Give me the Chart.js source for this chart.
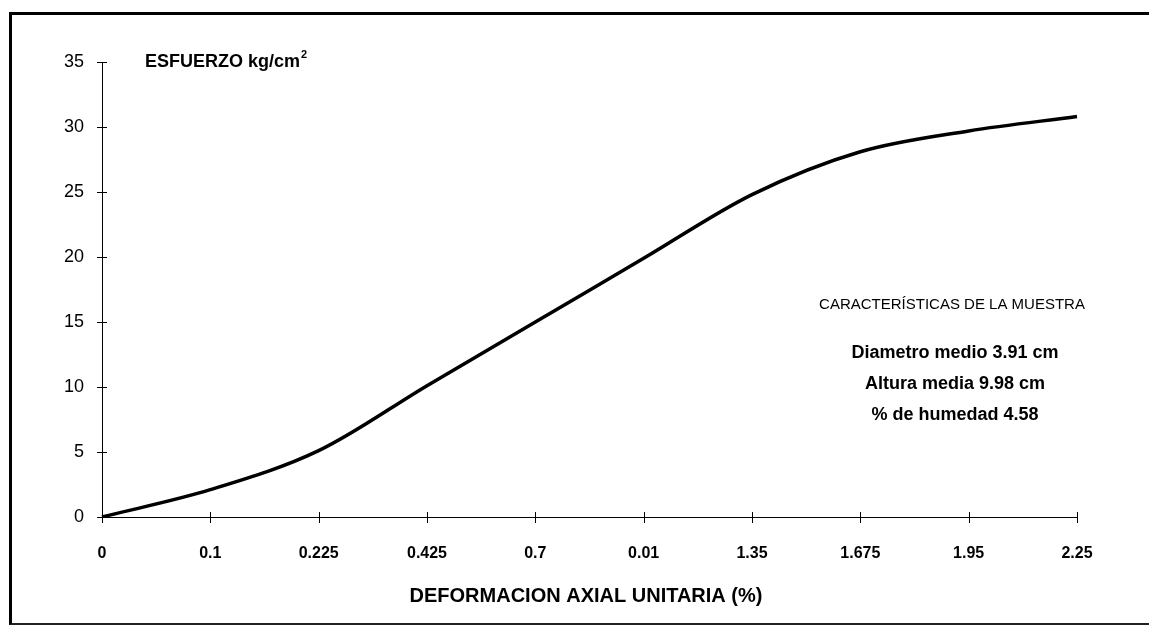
<!DOCTYPE html>
<html>
<head>
<meta charset="utf-8">
<script src="https://cdn.jsdelivr.net/npm/chart.js@4.4.1/dist/chart.umd.min.js"></script>
<style>
  html, body { margin: 0; padding: 0; background: #fff; }
  #wrap { position: relative; width: 1149px; height: 625px; overflow: hidden; }
  #frame {
    position: absolute; left: 9px; top: 12px; width: 1160px; height: 608px;
    border-left: 3px solid #000; border-top: 3px solid #000; border-bottom: 2px solid #222;
    pointer-events: none;
  }
</style>
</head>
<body>
<div id="wrap">
  <canvas id="chart-curva"></canvas>
  <div id="frame"></div>
</div>
<script>
/*===============
datos
====================*/
const deformacion = ['0', '0.1', '0.225', '0.425', '0.7', '0.01', '1.35', '1.675', '1.95', '2.25'];
const esfuerzo = [0, 2.1, 5.1, 10.1, 15, 19.9, 24.8, 28.1, 29.7, 30.8];
const yMin = 0;
const yMax = 35;
const yStep = 5;

const tituloY = 'ESFUERZO kg/cm';
const tituloX = 'DEFORMACION AXIAL UNITARIA (%)';
const caracteristicas = 'CARACTERÍSTICAS DE LA MUESTRA';
const datosMuestra = ['Diametro medio 3.91 cm', 'Altura media 9.98 cm', '% de humedad 4.58'];

const FONT = '"Liberation Sans", Arial, sans-serif';

/*===============
ticks cruzados + textos
====================*/
const extras = {
    id: 'extras',
    afterDraw(chart) {
        const ctx = chart.ctx;
        const x = chart.scales.x;
        const y = chart.scales.y;
        const area = chart.chartArea;
        ctx.save();
        ctx.strokeStyle = '#000';
        ctx.lineWidth = 1;
        y.ticks.forEach((t, i) => {
            const py = Math.round(y.getPixelForTick(i)) + 0.5;
            ctx.beginPath();
            ctx.moveTo(area.left - 5, py);
            ctx.lineTo(area.left + 5, py);
            ctx.stroke();
        });
        x.ticks.forEach((t, i) => {
            const px = Math.round(x.getPixelForTick(i)) + 0.5;
            ctx.beginPath();
            ctx.moveTo(px, area.bottom - 5);
            ctx.lineTo(px, area.bottom + 6);
            ctx.stroke();
        });

        ctx.fillStyle = '#000';
        ctx.textBaseline = 'middle';
        // titulo eje y
        ctx.textAlign = 'left';
        ctx.font = 'bold 18px ' + FONT;
        ctx.fillText(tituloY, 145, 62);
        const w = ctx.measureText(tituloY).width;
        ctx.font = 'bold 11px ' + FONT;
        ctx.fillText('2', 145 + w + 1, 55);

        // titulo eje x
        ctx.textAlign = 'center';
        ctx.font = 'bold 20px ' + FONT;
        ctx.fillText(tituloX, 586, 596);

        // caracteristicas
        ctx.font = '15px ' + FONT;
        ctx.fillText(caracteristicas, 952, 305);
        ctx.font = 'bold 18px ' + FONT;
        datosMuestra.forEach((s, i) => ctx.fillText(s, 955, 353 + i * 31));
        ctx.restore();
    }
};

const curva = document.getElementById('chart-curva');
if (curva) {
    new Chart(curva, {
        type: 'line',
        data: {
            labels: deformacion,
            datasets: [{
                label: 'Esfuerzo',
                data: esfuerzo,
                fill: false,
                borderColor: '#000',
                borderWidth: 3.5,
                pointRadius: 0,
                cubicInterpolationMode: 'monotone'
            }]
        },
        options: {
            responsive: true,
            maintainAspectRatio: false,
            animation: false,
            layout: {
                padding: { top: 62, right: 72, bottom: 0, left: 0 }
            },
            plugins: {
                legend: { display: false },
                tooltip: { enabled: false }
            },
            scales: {
                x: {
                    offset: false,
                    grid: { display: false },
                    border: { display: true, color: '#000', width: 1 },
                    ticks: {
                        color: '#000',
                        padding: 19,
                        maxRotation: 0,
                        autoSkip: false,
                        font: { family: FONT, size: 16, weight: 'bold' }
                    },
                    afterFit(scale) { scale.height = 108; }
                },
                y: {
                    min: yMin,
                    max: yMax,
                    grid: { display: false },
                    border: { display: true, color: '#000', width: 1 },
                    ticks: {
                        stepSize: yStep,
                        color: '#000',
                        padding: 10,
                        font: { family: FONT, size: 18 }
                    },
                    afterFit(scale) { scale.width = 102; }
                }
            }
        },
        plugins: [extras]
    });
}
</script>
</body>
</html>
